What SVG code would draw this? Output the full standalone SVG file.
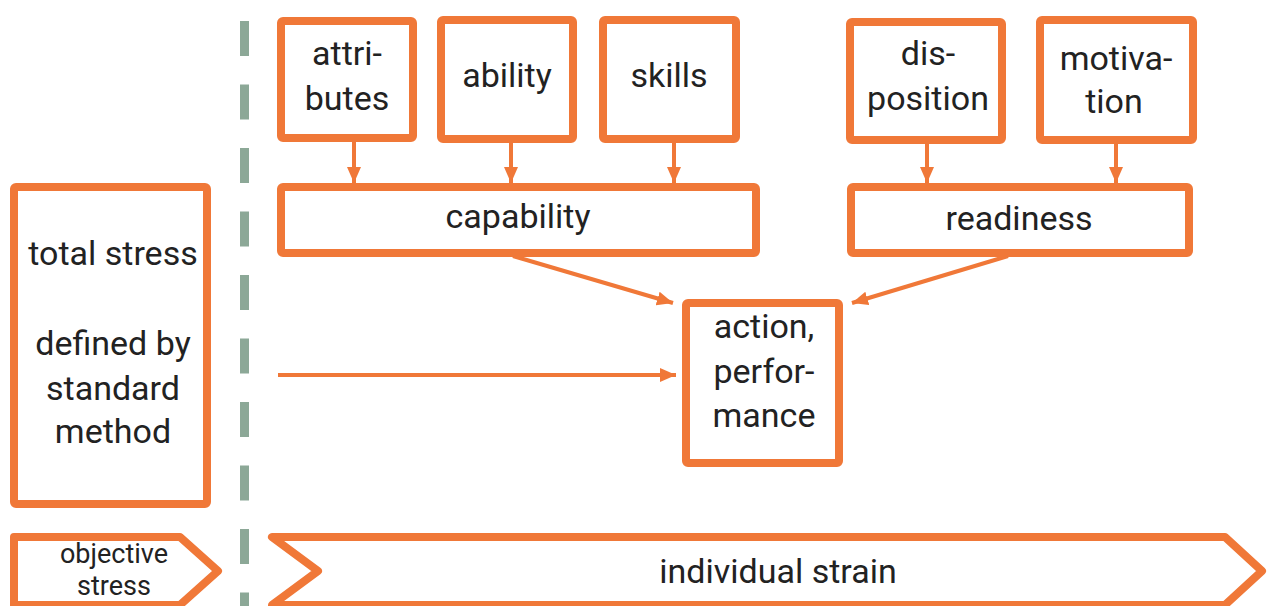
<svg xmlns="http://www.w3.org/2000/svg" width="1269" height="606" viewBox="0 0 1269 606">
<style>
.box{fill:#fff;stroke:#F07838;stroke-width:8;stroke-linejoin:round}
.conn{stroke:#F07838;stroke-width:4;fill:none}
.t{font-family:Roboto,"Liberation Sans",sans-serif;font-size:34px;fill:#222;text-anchor:middle}
.s{font-size:27px}
.dash{stroke:#8CA897;stroke-width:9;stroke-dasharray:35 28.5}
</style>
<defs>
<marker id="ah" markerUnits="userSpaceOnUse" viewBox="0 0 16 16" markerWidth="16" markerHeight="16" refX="16" refY="8" orient="auto">
<path d="M0,1 L16,8 L0,15 z" fill="#F07838"/>
</marker>
</defs>
<rect width="1269" height="606" fill="#fff"/>
<line class="dash" x1="244.5" y1="21" x2="244.5" y2="606"/>
<g id="connectors">
<line class="conn" x1="354" y1="142" x2="354" y2="183" marker-end="url(#ah)"/>
<line class="conn" x1="511" y1="143" x2="511" y2="183" marker-end="url(#ah)"/>
<line class="conn" x1="674" y1="143" x2="674" y2="183" marker-end="url(#ah)"/>
<line class="conn" x1="927" y1="144" x2="927" y2="183" marker-end="url(#ah)"/>
<line class="conn" x1="1116" y1="144" x2="1116" y2="183" marker-end="url(#ah)"/>
<line class="conn" x1="513" y1="256" x2="673" y2="303" marker-end="url(#ah)"/>
<line class="conn" x1="1008" y1="256" x2="852" y2="303" marker-end="url(#ah)"/>
<line class="conn" x1="278" y1="375" x2="676" y2="375" marker-end="url(#ah)"/>
</g>
<g id="attributes"><rect class="box" x="281" y="21" width="132" height="117" rx="2"/><text class="t" x="347" y="65">attri-</text><text class="t" x="347" y="110">butes</text></g>
<g id="ability"><rect class="box" x="441" y="20" width="132" height="119" rx="2"/><text class="t" x="507" y="87">ability</text></g>
<g id="skills"><rect class="box" x="603" y="20" width="133" height="119" rx="2"/><text class="t" x="669" y="87">skills</text></g>
<g id="disposition"><rect class="box" x="850" y="22" width="152" height="118" rx="2"/><text class="t" x="928" y="65">dis-</text><text class="t" x="928" y="110">position</text></g>
<g id="motivation"><rect class="box" x="1040" y="20" width="153" height="120" rx="2"/><text class="t" x="1116" y="70">motiva-</text><text class="t" x="1114" y="113">tion</text></g>
<g id="capability"><rect class="box" x="281" y="187" width="475" height="66" rx="2"/><text class="t" x="518" y="228">capability</text></g>
<g id="readiness"><rect class="box" x="851" y="187" width="338" height="66" rx="2"/><text class="t" x="1019" y="230">readiness</text></g>
<g id="total-stress"><rect class="box" x="14" y="187" width="193" height="317" rx="2"/><text class="t" x="113" y="265">total stress</text><text class="t" x="113" y="355">defined by</text><text class="t" x="113" y="400">standard</text><text class="t" x="113" y="443">method</text></g>
<g id="action"><rect class="box" x="686" y="303" width="153" height="160" rx="2"/><text class="t" x="764" y="338">action,</text><text class="t" x="764" y="383">perfor-</text><text class="t" x="764" y="427">mance</text></g>
<g id="objective-stress"><path class="box" d="M14,537 L180,537 L218,571 L180,605 L14,605 Z"/><text class="t s" x="114" y="563">objective</text><text class="t s" x="114" y="595">stress</text></g>
<g id="individual-strain"><path class="box" d="M272,537 L1225,537 L1262,571 L1225,605 L272,605 L318,571 Z"/><text class="t" x="778" y="583">individual strain</text></g>
</svg>
